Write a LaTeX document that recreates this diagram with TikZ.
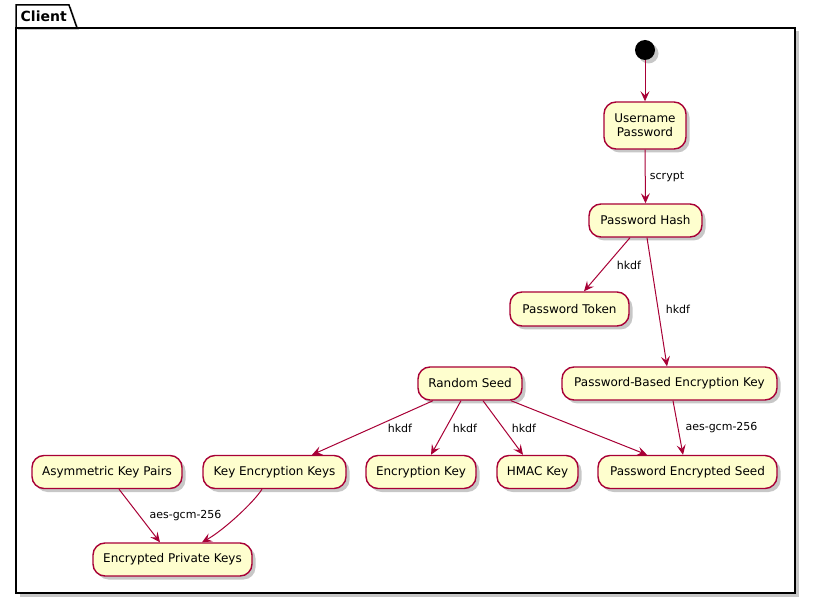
\documentclass[tikz,border=0pt]{standalone}
\usepackage{fontspec}
\setmainfont{DejaVu Sans}
\usetikzlibrary{arrows.meta,shadows,calc}
\definecolor{puborder}{HTML}{A80036}
\definecolor{pufill}{HTML}{FEFECE}
\tikzset{
  shade/.style={drop shadow={shadow xshift=3.5pt, shadow yshift=-3.5pt, fill=black, opacity=0.22}},
  box/.style={draw=puborder, fill=pufill, line width=1.4pt, rounded corners=12pt, inner sep=0pt,
    font=\fontsize{12}{14}\selectfont, align=center, minimum height=33pt, shade},
  conn/.style={draw=puborder, line width=1pt, -{Stealth[length=10pt,width=9pt,inset=4pt]}},
  lbl/.style={font=\fontsize{11}{13}\selectfont, inner sep=0pt, text=black},
  startdot/.style={circle, fill=black, minimum size=20pt, inner sep=0pt, shade},
}
\begin{document}
\begin{tikzpicture}[x=1pt, y=-1pt]
\useasboundingbox (0,0) rectangle (815,604);
% package
\draw[line width=1.5pt, fill=white, shade] (16,28) rectangle (795,593);
\draw[line width=1.5pt, fill=white, drop shadow={shadow xshift=2pt, shadow yshift=-2pt, fill=black, opacity=0.22}] (16,28) -- (16,5) -- (69,5) -- (77,28) -- cycle;
\node[anchor=west, inner sep=0pt, font=\fontsize{14}{16}\selectfont\bfseries] (pkg) at (20.5,16.5) {Client};

% nodes
\node[startdot] (start) at (645,50) {};
\node[box, minimum width=82pt, minimum height=47pt] (user) at (645,125.5) {Username\\Password};
\node[box, minimum width=113pt] (hash) at (645.5,220.5) {Password Hash};
\node[box, minimum width=119pt, minimum height=34pt] (token) at (569.5,309) {Password Token};
\node[box, minimum width=215pt] (pbek) at (669.5,383.5) {Password-Based Encryption Key};
\node[box, minimum width=104pt] (rs) at (470,383.5) {Random Seed};
\node[box, minimum width=110pt] (ek) at (421,472) {Encryption Key};
\node[box, minimum width=81pt] (hmac) at (537.5,472) {HMAC Key};
\node[box, minimum width=179pt] (pes) at (687.5,472) {Password Encrypted Seed};
\node[box, minimum width=150pt] (akp) at (107,472) {Asymmetric Key Pairs};
\node[box, minimum width=143pt] (kek) at (274.5,472) {Key Encryption Keys};
\node[box, minimum width=159pt] (epk) at (172.5,559.5) {Encrypted Private Keys};

% connectors
\draw[conn] (start) -- (user.north);
\draw[conn] (user.south) -- ([xshift=0.5pt]user.south |- hash.north);
\draw[conn] ([xshift=-15.5pt]hash.south) -- ([xshift=14.5pt]token.north);
\draw[conn] ([xshift=1.5pt]hash.south) -- ([xshift=-2.5pt]pbek.north);
\draw[conn] ([xshift=3.5pt]pbek.south) -- ([xshift=-4.5pt]pes.north);
\draw[conn] ([xshift=-37pt]rs.south) -- ([xshift=37.5pt]kek.north);
\draw[conn] ([xshift=-9pt]rs.south) -- ([xshift=10pt]ek.north);
\draw[conn] ([xshift=13pt]rs.south) -- ([xshift=-14.5pt]hmac.north);
\draw[conn] ([xshift=41pt]rs.south) -- ([xshift=-40.5pt]pes.north);
\draw[conn] ([xshift=12pt]akp.south) -- ([xshift=-12.5pt]epk.north);
\draw[conn] ([xshift=-12.5pt]kek.south) .. controls (254,502) and (224,530) .. ([xshift=29.5pt]epk.north);

% labels
\node[lbl] (l1) at (667,177) {scrypt};
\node[lbl] (l2) at (629,265) {hkdf};
\node[lbl] (l3) at (678,309) {hkdf};
\node[lbl] (l4) at (721.5,428) {aes-gcm-256};
\node[lbl] (l5) at (400,428) {hkdf};
\node[lbl] (l6) at (465,428) {hkdf};
\node[lbl] (l7) at (524,428) {hkdf};
\node[lbl] (l8) at (185.5,516) {aes-gcm-256};
\end{tikzpicture}
\end{document}
